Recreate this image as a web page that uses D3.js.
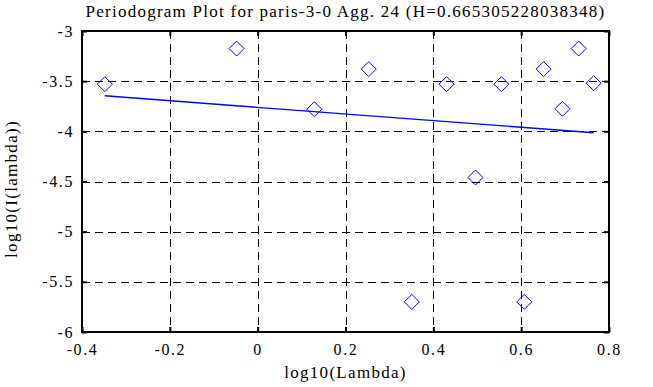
<!DOCTYPE html>
<html>
<head>
<meta charset="utf-8">
<script src="https://cdn.jsdelivr.net/npm/d3@7"></script>
<style>
  body { margin: 0; background: #fff; }
  text { font-family: "Liberation Serif", "Times New Roman", serif; fill: #000; }
</style>
</head>
<body>
<div id="chart"></div>
<script>
const title = "Periodogram Plot for paris-3-0 Agg. 24 (H=0.665305228038348)";

// log10(lambda) and log10(I(lambda)) for each point
const logLambda = [-0.348, -0.048, 0.129, 0.253, 0.351, 0.43, 0.496, 0.555, 0.607, 0.651, 0.694, 0.731, 0.765];
const logI = [-3.53, -3.175, -3.78, -3.38, -5.7, -3.53, -4.46, -3.53, -5.7, -3.38, -3.775, -3.175, -3.52];

// fitted line end points
const fitX = [-0.348, 0.765];
const fitY = [-3.646, -4.014];

const xTicks = [-0.4, -0.2, 0, 0.2, 0.4, 0.6, 0.8];
const yTicks = [-6, -5.5, -5, -4.5, -4, -3.5, -3];

const width = 653;
const height = 387;
const margin = { top: 31, right: 44, bottom: 55, left: 82 };
const w = width - margin.left - margin.right;
const h = height - margin.top - margin.bottom;

const svg = d3
  .select("#chart")
  .append("svg")
  .attr("width", width)
  .attr("height", height);

const g = svg
  .append("g")
  .attr("transform", "translate(" + margin.left + "," + margin.top + ")");

const x = d3.scaleLinear().domain([-0.4, 0.8]).range([0, w]);
const y = d3.scaleLinear().domain([-6, -3]).range([h, 0]);

// dashed grid
g.selectAll(".vgrid")
  .data(xTicks.slice(1, -1))
  .enter()
  .append("line")
  .attr("x1", (d) => Math.round(x(d)) + 0.5)
  .attr("x2", (d) => Math.round(x(d)) + 0.5)
  .attr("y1", 0)
  .attr("y2", h)
  .attr("stroke", "#000")
  .attr("stroke-dasharray", "8,5");

g.selectAll(".hgrid")
  .data(yTicks.slice(1, -1))
  .enter()
  .append("line")
  .attr("y1", (d) => Math.round(y(d)) + 0.5)
  .attr("y2", (d) => Math.round(y(d)) + 0.5)
  .attr("x1", 0)
  .attr("x2", w)
  .attr("stroke", "#000")
  .attr("stroke-dasharray", "8,5");

// axes with inward ticks on all four sides
const fmt = (d) => String(d);

const xBottom = g
  .append("g")
  .attr("transform", "translate(0," + h + ")")
  .call(d3.axisBottom(x).tickValues(xTicks).tickSize(-5).tickPadding(12).tickFormat(fmt));
const xTop = g.append("g").call(d3.axisTop(x).tickValues(xTicks).tickSize(-5).tickFormat(""));
const yLeft = g
  .append("g")
  .call(d3.axisLeft(y).tickValues(yTicks).tickSize(-5).tickPadding(8).tickFormat(fmt));
const yRight = g
  .append("g")
  .attr("transform", "translate(" + w + ",0)")
  .call(d3.axisRight(y).tickValues(yTicks).tickSize(-5).tickFormat(""));

[xBottom, xTop, yLeft, yRight].forEach(function (a) {
  a.attr("font-family", null).attr("font-size", null);
  a.select(".domain").remove();
  a.selectAll(".tick line").attr("stroke", "#000").attr("stroke-width", 2);
  a.selectAll("text")
    .style("font-family", '"Liberation Serif", "Times New Roman", serif')
    .style("font-size", "16px")
    .style("letter-spacing", "1.6px")
    .attr("fill", "#000");
});

// frame
g.append("rect")
  .attr("x", 0)
  .attr("y", 0)
  .attr("width", w)
  .attr("height", h)
  .attr("fill", "none")
  .attr("stroke", "#000")
  .attr("stroke-width", 2);

// fitted line
g.append("line")
  .attr("x1", x(fitX[0]))
  .attr("y1", y(fitY[0]))
  .attr("x2", x(fitX[1]))
  .attr("y2", y(fitY[1]))
  .attr("stroke", "#0000ff")
  .attr("stroke-width", 1.4);

// diamonds
const r = 7.5;
g.selectAll(".pt")
  .data(logLambda)
  .enter()
  .append("path")
  .attr("d", function (d, i) {
    const cx = x(d);
    const cy = y(logI[i]);
    return "M" + cx + "," + (cy - r) + "L" + (cx + r) + "," + cy + "L" + cx + "," + (cy + r) + "L" + (cx - r) + "," + cy + "Z";
  })
  .attr("fill", "none")
  .attr("stroke", "#0000ff")
  .attr("stroke-width", 1);

// title and axis labels
svg.append("text")
  .attr("x", margin.left + w / 2)
  .attr("y", 17)
  .attr("text-anchor", "middle")
  .style("font-size", "17px")
  .style("letter-spacing", "1.25px")
  .text(title);

svg.append("text")
  .attr("x", margin.left + w / 2)
  .attr("y", 378)
  .attr("text-anchor", "middle")
  .style("font-size", "17px")
  .style("letter-spacing", "1.3px")
  .text("log10(Lambda)");

svg.append("text")
  .attr("transform", "translate(17,189) rotate(-90)")
  .attr("text-anchor", "middle")
  .style("font-size", "17px")
  .style("letter-spacing", "1.3px")
  .text("log10(I(lambda))");
</script>
</body>
</html>
